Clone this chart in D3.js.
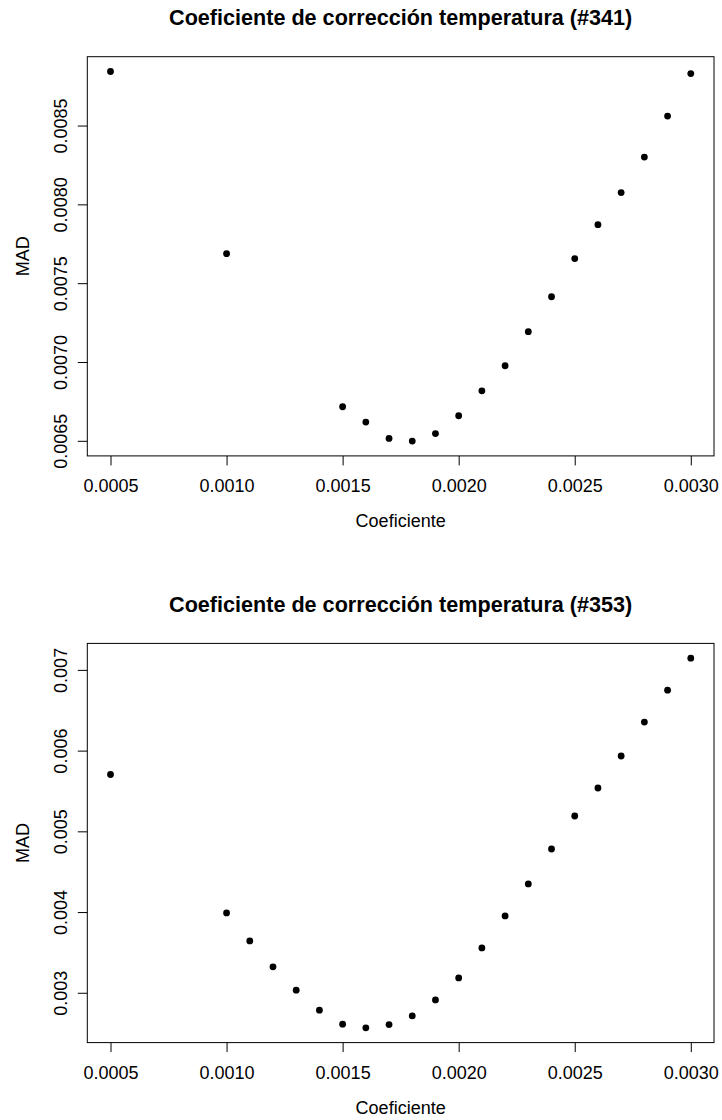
<!DOCTYPE html>
<html>
<head>
<meta charset="utf-8">
<script src="https://cdn.jsdelivr.net/npm/d3@7"></script>
<style>
  body { margin: 0; background: #fff; }
  svg text { font-family: "Liberation Sans", Arial, sans-serif; fill: #000; }
</style>
</head>
<body>
<svg id="chart" width="722" height="1120"></svg>
<script>
// x values (Coeficiente)
var coefA = [0.0005, 0.0010, 0.0015, 0.0016, 0.0017, 0.0018, 0.0019, 0.0020, 0.0021,
             0.0022, 0.0023, 0.0024, 0.0025, 0.0026, 0.0027, 0.0028, 0.0029, 0.0030];
var madA = [0.008843, 0.007687, 0.006716, 0.006619, 0.006515, 0.006498, 0.006546, 0.006659, 0.006817,
            0.006976, 0.007192, 0.007414, 0.007656, 0.007871, 0.008075, 0.008300, 0.008560, 0.008830];

var coefB = [0.0005, 0.0010, 0.0011, 0.0012, 0.0013, 0.0014, 0.0015, 0.0016, 0.0017, 0.0018, 0.0019,
             0.0020, 0.0021, 0.0022, 0.0023, 0.0024, 0.0025, 0.0026, 0.0027, 0.0028, 0.0029, 0.0030];
var madB = [0.005704, 0.003989, 0.003643, 0.003321, 0.003032, 0.002785, 0.002611, 0.002566, 0.002606, 0.002714, 0.002912,
            0.003184, 0.003556, 0.003952, 0.004349, 0.004781, 0.005190, 0.005537, 0.005933, 0.006354, 0.006749, 0.007145];

var xTicks = [0.0005, 0.0010, 0.0015, 0.0020, 0.0025, 0.0030];
var yTicksA = [0.0065, 0.0070, 0.0075, 0.0080, 0.0085];
var yTicksB = [0.003, 0.004, 0.005, 0.006, 0.007];

var titleA = "Coeficiente de corrección temperatura (#341)";
var titleB = "Coeficiente de corrección temperatura (#353)";

var svg = d3.select("#chart");

// R style padding: 4% on each side of the data range
function padded(vals) {
    var ext = d3.extent(vals);
    var pad = (ext[1] - ext[0]) * 0.04;
    return [ext[0] - pad, ext[1] + pad];
}

function drawPanel(top, xs, ys, yTicks, yFmt, title) {
    var left = 87.3, right = 714, h = 399.2;
    var bottom = top + h;

    var x = d3.scaleLinear().domain(padded(xs)).range([left, right]);
    var y = d3.scaleLinear().domain(padded(ys)).range([bottom, top]);

    var g = svg.append("g");

    // bottom axis
    var xAxis = g.append("g")
        .attr("transform", "translate(0," + bottom + ")")
        .call(d3.axisBottom(x).tickValues(xTicks).tickSize(9.5).tickSizeOuter(0)
            .tickFormat(d3.format(".4f")));
    xAxis.select(".domain").remove();
    xAxis.selectAll("line").attr("stroke", "#000");
    xAxis.selectAll("text")
        .attr("y", 36).attr("dy", 0)
        .style("font-size", "18px");

    // left axis, labels rotated like R
    var yAxis = g.append("g")
        .attr("transform", "translate(" + left + ",0)")
        .call(d3.axisLeft(y).tickValues(yTicks).tickSize(9.5).tickSizeOuter(0)
            .tickFormat(d3.format(yFmt)));
    yAxis.select(".domain").remove();
    yAxis.selectAll("line").attr("stroke", "#000");
    yAxis.selectAll("text")
        .attr("transform", "rotate(-90)")
        .attr("x", 0).attr("y", -20.5).attr("dy", 0)
        .attr("text-anchor", "middle")
        .style("font-size", "18px");

    // plot box
    g.append("rect")
        .attr("x", left).attr("y", top)
        .attr("width", right - left).attr("height", h)
        .attr("fill", "none").attr("stroke", "#000").attr("stroke-width", 1);

    // points
    g.selectAll("circle")
        .data(xs)
        .enter().append("circle")
        .attr("cx", function(d) { return x(d); })
        .attr("cy", function(d, i) { return y(ys[i]); })
        .attr("r", 3.4)
        .attr("fill", "#000");

    // titles
    g.append("text")
        .attr("x", (left + right) / 2).attr("y", top - 31.5)
        .attr("text-anchor", "middle")
        .style("font-size", "21.6px").style("font-weight", "bold")
        .text(title);

    g.append("text")
        .attr("x", (left + right) / 2).attr("y", bottom + 71)
        .attr("text-anchor", "middle")
        .style("font-size", "18px")
        .text("Coeficiente");

    g.append("text")
        .attr("transform", "translate(28.5," + (top + h / 2) + ") rotate(-90)")
        .attr("text-anchor", "middle")
        .style("font-size", "18px")
        .text("MAD");
}

drawPanel(56.7, coefA, madA, yTicksA, ".4f", titleA);
drawPanel(643.4, coefB, madB, yTicksB, ".3f", titleB);
</script>
</body>
</html>
